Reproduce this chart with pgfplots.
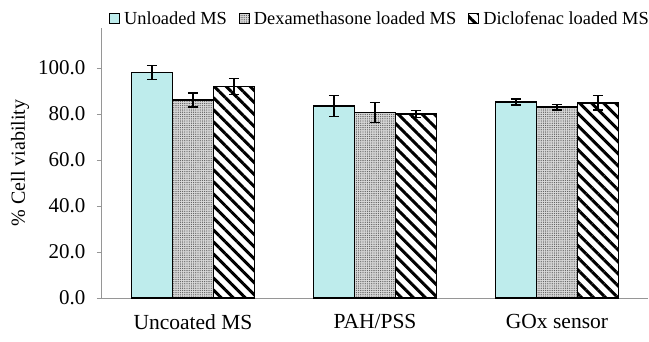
\documentclass[border=0pt]{standalone}
\usepackage{pgfplots}
\pgfplotsset{compat=1.18}
\usetikzlibrary{patterns.meta}
\usepackage{fontspec}
\setmainfont{Liberation Serif}
\definecolor{cyanbar}{RGB}{190,236,236}
\definecolor{axgray}{RGB}{150,150,150}
\begin{document}
\begin{tikzpicture}
\useasboundingbox (-102pt,-43pt) rectangle (547pt,298pt);
\begin{axis}[
  at={(0pt,0pt)}, anchor=south west,
  scale only axis, width=546pt, height=270pt,
  xmin=0.5, xmax=3.5, ymin=0, ymax=117.4,
  axis x line=bottom, axis y line=left,
  axis line style={-, draw=axgray, line width=1pt},
  xtick={1,2,3}, xticklabels={Uncoated MS, PAH/PSS, GOx sensor},
  xtick style={draw=none},
  xticklabel style={font=\fontsize{21.5}{24}\selectfont, yshift=-8pt},
  ytick={0,20,40,60,80,100},
  ytick style={draw=axgray, line width=1pt},
  tick align=outside, major tick length=5pt,
  yticklabel style={font=\fontsize{21}{24}\selectfont, xshift=-8pt, /pgf/number format/.cd, fixed, fixed zerofill, precision=1, assume math mode=true},
  ylabel={\% Cell viability},
  ylabel style={font=\fontsize{20}{24}\selectfont, at={(axis description cs:0,0.5)}, anchor=center, yshift=82pt},
  ybar, bar width=41pt,
  every axis plot/.append style={draw=black, line width=1.4pt},
  error bars/error bar style={line width=1.3pt, black},
  error bars/error mark options={rotate=90, mark size=5pt, line width=1.3pt, black},
  legend columns=3,
  legend style={at={(axis description cs:0,1)}, anchor=west, xshift=7pt, yshift=9.5pt,
    draw=none, fill=none, inner sep=0pt, font=\fontsize{18.4}{21}\selectfont,
    /tikz/every odd column/.append style={column sep=2pt},
    /tikz/every even column/.append style={column sep=10pt}},
  legend image code/.code={\draw[#1, line width=1pt] (0pt,-5pt) rectangle (10pt,5pt);},
]
\addplot[fill=cyanbar, bar shift=-41pt, error bars/.cd, y dir=both, y explicit]
  coordinates {(1,98.0) +- (0,3.1) (2,83.5) +- (0,4.7) (3,85.2) +- (0,1.3)};
\addplot[fill=gray!30, postaction={pattern={Dots[distance=2.2pt, radius=0.65pt]}, pattern color=black!65}, bar shift=0pt, error bars/.cd, y dir=both, y explicit]
  coordinates {(1,86.1) +- (0,3.0) (2,80.6) +- (0,4.3) (3,83.0) +- (0,1.2)};
\addplot[fill=white, postaction={pattern={Lines[angle=-45, distance=8.5pt, line width=3pt]}}, bar shift=41pt, error bars/.cd, y dir=both, y explicit]
  coordinates {(1,91.9) +- (0,3.4) (2,80.0) +- (0,1.6) (3,84.8) +- (0,3.1)};
\legend{Unloaded MS, Dexamethasone loaded MS, Diclofenac loaded MS}
\end{axis}
\end{tikzpicture}
\end{document}
